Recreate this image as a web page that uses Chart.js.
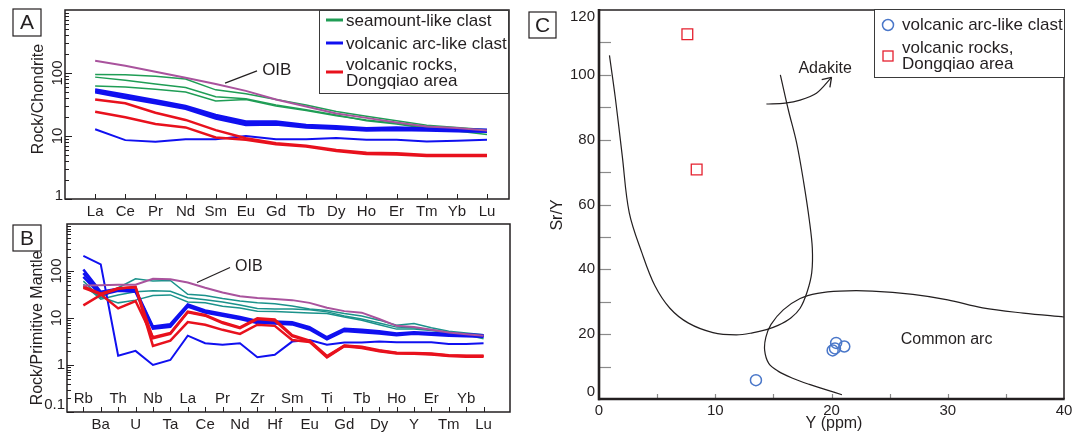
<!DOCTYPE html>
<html>
<head>
<meta charset="utf-8">
<script src="https://cdn.jsdelivr.net/npm/chart.js@4.4.0/dist/chart.umd.min.js"></script>
<style>
  body { margin: 0; background: #fff; }
  #wrap { position: relative; width: 1086px; height: 434px; overflow: hidden; }
  .painel { position: absolute; }
</style>
</head>
<body>
<div id="wrap">
  <div class="painel" style="left:0;top:0;width:520px;height:222px"><canvas id="grafico-a"></canvas></div>
  <div class="painel" style="left:0;top:214px;width:520px;height:220px"><canvas id="grafico-b"></canvas></div>
  <div class="painel" style="left:520px;top:0;width:566px;height:434px"><canvas id="grafico-c"></canvas></div>
</div>
<script>
// ---------- Painel A: ETR normalizados ao condrito ----------
const elementosA = ['La', 'Ce', 'Pr', 'Nd', 'Sm', 'Eu', 'Gd', 'Tb', 'Dy', 'Ho', 'Er', 'Tm', 'Yb', 'Lu'];
const ticksLogA = [1, 10, 100];
const oibA = [156, 130, 105, 84, 67, 52, 38, 29.5, 22.8, 19.4, 16.4, 14.2, 13.4, 12.2];
const seamountA1 = [95, 94, 89, 80, 54, 47, 38, 31, 24.5, 20.5, 17.5, 14.8, 13.6, 12.6];
const seamountA2 = [86, 77, 67, 59, 42, 39, 31, 26, 21.5, 17.5, 15.5, 13.2, 12, 10.6];
const seamountA3 = [62, 60, 55, 50, 36, 38, 30, 25.5, 21, 18, 16, 13.6, 12.8, 12.2];
const arcoA1 = [55, 45, 37, 30, 21.5, 17, 17, 15, 14.3, 13.3, 13.6, 13.2, 12.8, 12.6];
const arcoA2 = [52, 42, 35, 28.5, 20, 16, 16, 14.3, 13.6, 12.7, 13, 12.7, 12.3, 12.1];
const arcoA3 = [49.5, 40, 33, 27, 19, 15, 15.2, 13.6, 13, 12.2, 12.5, 12.2, 11.9, 11.7];
const arcoA4 = [12.8, 8.6, 8.1, 8.9, 8.9, 10, 8.9, 8.9, 9.3, 8.7, 8.7, 8.2, 8.4, 8.7];
const dongqiaoA1 = [38, 33, 23.4, 18, 12.4, 9.2, 7.7, 7.0, 6.0, 5.4, 5.3, 5.0, 5.0, 5.0];
const dongqiaoA2 = [24.3, 19.8, 15.5, 13.7, 9.5, 8.7, 7.4, 6.8, 5.8, 5.2, 5.1, 4.8, 4.8, 4.8];

// ---------- Painel B: multielementos normalizados ao manto primitivo ----------
const elementosB = ['Rb', 'Ba', 'Th', 'U', 'Nb', 'Ta', 'La', 'Ce', 'Pr', 'Nd', 'Zr', 'Hf', 'Sm', 'Eu', 'Ti', 'Gd', 'Tb', 'Dy', 'Ho', 'Y', 'Er', 'Tm', 'Yb', 'Lu'];
const ticksLogB = [0.1, 1, 10, 100];
const oibB = [49, 50, 51, 51, 68, 67, 57, 44, 35, 29, 26.5, 25.5, 24, 21, 16.5, 14, 13, 9.5, 6.8, 6.4, 5.6, 4.9, 4.5, 4.2];
const seamountB1 = [61, 27, 44, 68, 61, 63, 32, 30, 26, 23, 21, 20, 18, 15.5, 14.5, 12.5, 11, 9, 7, 7.6, 6.2, 5.2, 4.8, 4.4];
const seamountB2 = [52, 25, 31, 36, 38, 37, 27, 24.5, 22, 19, 16, 15.6, 15.6, 15, 13.5, 11, 9.5, 7.8, 6.4, 6.2, 5.6, 4.9, 4.5, 4.0];
const seamountB3 = [47, 28, 21, 24, 30, 31, 22, 21, 17.7, 16.4, 14, 13.8, 13.2, 12.8, 12.4, 10.5, 9, 7.2, 5.8, 5.8, 5.4, 4.8, 4.4, 3.6];
const arcoB1 = [108, 36, 42, 40, 6.6, 7.4, 19.5, 14.5, 12.3, 10.5, 8.6, 8.4, 8.1, 6.4, 3.9, 5.9, 5.6, 5.2, 4.7, 5.0, 4.8, 4.6, 4.5, 4.3];
const arcoB2 = [90, 33, 40, 38, 6.2, 6.9, 18.5, 13.8, 11.8, 10, 8.2, 8.0, 7.7, 6.0, 3.7, 5.6, 5.3, 4.9, 4.5, 4.8, 4.6, 4.4, 4.3, 4.15];
const arcoB3 = [75, 31, 38, 36, 5.9, 6.5, 17.5, 13, 11.2, 9.5, 7.8, 7.6, 7.3, 5.7, 3.5, 5.3, 5.0, 4.7, 4.3, 4.6, 4.4, 4.2, 4.1, 4.0];
const arcoB4 = [209, 138, 1.58, 2.0, 1.0, 1.28, 4.2, 2.9, 2.7, 2.9, 1.46, 1.65, 3.15, 3.4, 2.7, 3.0, 3.0, 3.15, 3.05, 3.05, 3.05, 2.8, 2.8, 2.9];
const dongqiaoB1 = [18.6, 31, 42, 46, 3.7, 4.6, 13.2, 11.2, 7.8, 6.1, 9.5, 8.8, 4.1, 3.2, 1.5, 2.55, 2.4, 2.0, 1.8, 1.78, 1.72, 1.6, 1.55, 1.55];
const dongqiaoB2 = [47, 33, 43, 45, 2.55, 3.3, 8.2, 7.2, 5.6, 4.6, 7.2, 6.8, 3.4, 3.1, 1.45, 2.5, 2.3, 1.95, 1.75, 1.74, 1.68, 1.55, 1.5, 1.5];
const dongqiaoB3 = [44, 32, 16, 23, 3.9, 4.8, 13.6, 11.6, 8.1, 6.3, 9.9, 9.3, 4.3, 3.3, 1.55, 2.6, 2.45, 2.05, 1.82, 1.8, 1.75, 1.62, 1.58, 1.58];

// ---------- Painel C: Sr/Y x Y ----------
const ticksYC = [0, 20, 40, 60, 80, 100, 120];
const arcoC = [[13.5, 5.8], [20.4, 17.3], [20.1, 15.0], [20.3, 15.6], [21.1, 16.2]];
const dongqiaoC = [[7.6, 112.5], [8.4, 70.8]];
const curvaAdakito = [[0.9, 106], [1.4, 93], [2.0, 75], [2.6, 57.5], [3.7, 45], [4.8, 35], [6.1, 28], [7.7, 23.4], [9.8, 20.5],
  [11.8, 19.8], [13.2, 20.4], [14.4, 21.4], [15.4, 22.7], [16.5, 25], [17.3, 28], [17.9, 33], [18.3, 39], [18.35, 46.5],
  [18.1, 55], [17.6, 67], [17.0, 79], [16.3, 89], [15.6, 100]];
const curvaArcoComum = [[20.9, 1.3], [19.5, 2.9], [18.1, 4.5], [16.6, 6.5], [15.4, 8.6], [14.6, 11], [14.25, 15], [14.35, 19],
  [14.8, 23], [15.85, 27.5], [17.3, 31.0], [18.8, 32.6], [20.7, 33.3], [23.5, 33.3], [27, 32.3], [30, 30.6], [33, 28.1],
  [36.5, 26.5], [40, 25.3]];
const setaAdakito = [[14.4, 91.0], [16.0, 91.3], [17.3, 92.2], [18.7, 94.3], [20.0, 99.2]];

const FONTE = '"Liberation Sans", Arial, Helvetica, sans-serif';
const COR_TEXTO = '#231f20';
const VERDE = '#1f9d55';
const TEAL = '#1b928b';
const AZUL = '#1010f0';
const VERMELHO = '#e8111d';
const ROXO = '#a9539d';

const pontos = serie => serie.map((v, i) => ({ x: i, y: v }));
const pares = lista => lista.map(p => ({ x: p[0], y: p[1] }));

function linha(serie, cor, largura) {
    return { data: pontos(serie), borderColor: cor, borderWidth: largura, pointRadius: 0, fill: false, tension: 0 };
}

function texto(ctx, str, x, y, tam, alinh, rot) {
    ctx.save();
    ctx.font = `${tam}px ${FONTE}`;
    ctx.fillStyle = COR_TEXTO;
    ctx.textAlign = alinh || 'center';
    ctx.textBaseline = 'middle';
    ctx.translate(x, y);
    if (rot) ctx.rotate(rot);
    ctx.fillText(str, 0, 0);
    ctx.restore();
}

function traco(ctx, x1, y1, x2, y2, cor, largura) {
    ctx.save();
    ctx.strokeStyle = cor || COR_TEXTO;
    ctx.lineWidth = largura || 1;
    ctx.beginPath();
    ctx.moveTo(x1, y1);
    ctx.lineTo(x2, y2);
    ctx.stroke();
    ctx.restore();
}

function moldura(ctx, area, largura) {
    ctx.save();
    ctx.strokeStyle = COR_TEXTO;
    ctx.lineWidth = largura;
    ctx.strokeRect(area.left, area.top, area.right - area.left, area.bottom - area.top);
    ctx.restore();
}

function caixaLetra(ctx, letra, x, y, w, h) {
    ctx.save();
    ctx.strokeStyle = COR_TEXTO;
    ctx.lineWidth = 1.2;
    ctx.strokeRect(x, y, w, h);
    ctx.restore();
    texto(ctx, letra, x + w / 2, y + h / 2 + 1, 21);
}

// marcas internas do eixo log (principais e secundarias)
function marcasLog(ctx, escala, area) {
    ctx.save();
    ctx.strokeStyle = COR_TEXTO;
    ctx.lineWidth = 1;
    ctx.beginPath();
    const d0 = Math.round(Math.log10(escala.min)), d1 = Math.round(Math.log10(escala.max));
    for (let d = d0; d < d1; d++) {
        for (let m = 1; m < 10; m++) {
            const y = Math.round(escala.getPixelForValue(m * Math.pow(10, d))) + 0.5;
            ctx.moveTo(area.left, y);
            ctx.lineTo(area.left + (m === 1 ? 7 : 4), y);
        }
    }
    ctx.stroke();
    ctx.restore();
}

function marcasX(ctx, escala, area, n) {
    for (let i = 0; i < n; i++) {
        const x = Math.round(escala.getPixelForValue(i)) + 0.5;
        traco(ctx, x, area.bottom, x, area.bottom - 5);
    }
}

function rotulosLog(ctx, escala, area, valores, xRot, xReto, folga) {
    valores.forEach(v => {
        const y = escala.getPixelForValue(v);
        if (v >= 10) {
            texto(ctx, String(v), xRot, y, 15, 'center', -Math.PI / 2);
        } else {
            texto(ctx, String(v), xReto, Math.min(y, area.bottom - folga), 15, 'right');
        }
    });
}

function legendaLinhas(ctx, x, y, w, h, itens) {
    ctx.save();
    ctx.fillStyle = '#fff';
    ctx.fillRect(x, y, w, h);
    ctx.strokeStyle = '#3a3a3a';
    ctx.lineWidth = 1;
    ctx.strokeRect(x + 0.5, y + 0.5, w - 1, h);
    ctx.restore();
    itens.forEach(item => {
        const yl = y + item.dy;
        traco(ctx, x + 7, yl, x + 24, yl, item.cor, 3);
        item.linhas.forEach((t, k) => {
            texto(ctx, t, x + 27, yl + (item.linhas.length > 1 ? (k - 0.5) * 16 : 0) + 1, 17, 'left');
        });
    });
}

const opcoesBase = {
    responsive: true,
    maintainAspectRatio: false,
    animation: false,
    events: [],
    plugins: { legend: { display: false }, tooltip: { enabled: false } }
};

const semGrade = { display: false, drawTicks: false };
const eixoOculto = { grid: semGrade, border: { display: false }, ticks: { display: false } };

// ---------- grafico A ----------
const decoracaoA = {
    id: 'decoracaoA',
    afterDraw(chart) {
        const ctx = chart.ctx, area = chart.chartArea;
        const sx = chart.scales.x, sy = chart.scales.y;
        marcasLog(ctx, sy, area);
        marcasX(ctx, sx, area, elementosA.length);
        moldura(ctx, area, 1.5);
        rotulosLog(ctx, sy, area, ticksLogA, 58, 63, 3);
        texto(ctx, 'Rock/Chondrite', 39, 99, 16, 'center', -Math.PI / 2);
        caixaLetra(ctx, 'A', 13, 9, 28, 27);
        traco(ctx, sx.getPixelForValue(4.31), sy.getPixelForValue(69), sx.getPixelForValue(5.37), sy.getPixelForValue(108), COR_TEXTO, 1.2);
        texto(ctx, 'OIB', sx.getPixelForValue(5.54), sy.getPixelForValue(112), 17, 'left');
        legendaLinhas(ctx, area.right - 190, area.top, 190, 83, [
            { cor: VERDE, dy: 10, linhas: ['seamount-like clast'] },
            { cor: AZUL, dy: 33, linhas: ['volcanic arc-like clast'] },
            { cor: VERMELHO, dy: 62, linhas: ['volcanic rocks,', 'Dongqiao area'] }
        ]);
    }
};

new Chart(document.getElementById('grafico-a'), {
    type: 'line',
    data: {
        datasets: [
            linha(oibA, ROXO, 2),
            linha(dongqiaoA1, VERMELHO, 2.5),
            linha(dongqiaoA2, VERMELHO, 2.5),
            linha(arcoA1, AZUL, 2.5),
            linha(arcoA2, AZUL, 2.5),
            linha(arcoA3, AZUL, 2.5),
            linha(arcoA4, AZUL, 2),
            linha(seamountA1, VERDE, 1.5),
            linha(seamountA2, VERDE, 1.5),
            linha(seamountA3, VERDE, 1.5)
        ]
    },
    options: {
        ...opcoesBase,
        layout: { padding: { top: 10, right: 11, left: 0, bottom: 0 } },
        scales: {
            x: {
                type: 'linear', min: -1, max: 13.73,
                afterBuildTicks: s => { s.ticks = elementosA.map((_, i) => ({ value: i })); },
                afterFit: s => { s.height = 23; },
                grid: semGrade, border: { display: false },
                ticks: {
                    autoSkip: false, maxRotation: 0, padding: 4, color: COR_TEXTO,
                    font: { family: FONTE, size: 15 },
                    callback: v => elementosA[v]
                }
            },
            y: { type: 'logarithmic', min: 1, max: 1000, afterFit: s => { s.width = 65; }, ...eixoOculto }
        }
    },
    plugins: [decoracaoA]
});

// ---------- grafico B ----------
const decoracaoB = {
    id: 'decoracaoB',
    afterDraw(chart) {
        const ctx = chart.ctx, area = chart.chartArea;
        const sx = chart.scales.x, sy = chart.scales.y;
        marcasLog(ctx, sy, area);
        marcasX(ctx, sx, area, elementosB.length);
        moldura(ctx, area, 1.5);
        rotulosLog(ctx, sy, area, ticksLogB, 57, 65, 7);
        elementosB.forEach((el, i) => {
            const x = sx.getPixelForValue(i);
            texto(ctx, el, x, i % 2 === 0 ? area.bottom - 13 : area.bottom + 13, 15);
        });
        texto(ctx, 'Rock/Primitive Mantle', 38, 114, 16, 'center', -Math.PI / 2);
        caixaLetra(ctx, 'B', 13, 11, 28, 26);
        traco(ctx, sx.getPixelForValue(6.53), sy.getPixelForValue(57), sx.getPixelForValue(8.43), sy.getPixelForValue(119), COR_TEXTO, 1.2);
        texto(ctx, 'OIB', sx.getPixelForValue(8.72), sy.getPixelForValue(122), 16, 'left');
    }
};

new Chart(document.getElementById('grafico-b'), {
    type: 'line',
    data: {
        datasets: [
            linha(oibB, ROXO, 2),
            linha(dongqiaoB1, VERMELHO, 2.5),
            linha(dongqiaoB2, VERMELHO, 2.5),
            linha(dongqiaoB3, VERMELHO, 2.5),
            linha(arcoB1, AZUL, 2.5),
            linha(arcoB2, AZUL, 2.5),
            linha(arcoB3, AZUL, 2.5),
            linha(arcoB4, AZUL, 2),
            linha(seamountB1, TEAL, 1.5),
            linha(seamountB2, TEAL, 1.5),
            linha(seamountB3, TEAL, 1.5)
        ]
    },
    options: {
        ...opcoesBase,
        layout: { padding: { top: 10, right: 10, left: 0, bottom: 0 } },
        scales: {
            x: { type: 'linear', min: -0.94, max: 24.52, afterFit: s => { s.height = 22; }, ...eixoOculto },
            y: { type: 'logarithmic', min: 0.1, max: 1000, afterFit: s => { s.width = 67; }, ...eixoOculto }
        }
    },
    plugins: [decoracaoB]
});

// ---------- grafico C ----------
const decoracaoC = {
    id: 'decoracaoC',
    afterDraw(chart) {
        const ctx = chart.ctx, area = chart.chartArea;
        const sx = chart.scales.x, sy = chart.scales.y;
        for (let v = 10; v < 120; v += 10) {
            const y = Math.round(sy.getPixelForValue(v)) + 0.5;
            traco(ctx, area.left, y, area.left + 12, y, '#8a8a8a', 1.2);
        }
        for (let v = 5; v < 40; v += 5) {
            const x = Math.round(sx.getPixelForValue(v)) + 0.5;
            traco(ctx, x, area.bottom, x, area.bottom - 5, '#8a8a8a', 1.2);
        }
        traco(ctx, area.left, area.top, area.right, area.top, COR_TEXTO, 1.5);
        traco(ctx, area.right, area.top, area.right, area.bottom, COR_TEXTO, 1.5);
        traco(ctx, area.left, area.top - 1, area.left, area.bottom + 1.2, COR_TEXTO, 2.6);
        traco(ctx, area.left - 1, area.bottom, area.right + 0.7, area.bottom, COR_TEXTO, 2.6);

        // rotulos do eixo Y, presos dentro da moldura como no original
        ticksYC.forEach(v => {
            const y = Math.max(area.top + 7, Math.min(area.bottom - 7, sy.getPixelForValue(v)));
            texto(ctx, String(v), area.left - 4, y, 15, 'right');
        });

        // ponta da seta
        const n = setaAdakito.length;
        const xa = sx.getPixelForValue(setaAdakito[n - 2][0]), ya = sy.getPixelForValue(setaAdakito[n - 2][1]);
        const xb = sx.getPixelForValue(setaAdakito[n - 1][0]), yb = sy.getPixelForValue(setaAdakito[n - 1][1]);
        const ang = Math.atan2(yb - ya, xb - xa);
        [0.6, -0.6].forEach(d => {
            traco(ctx, xb, yb, xb - 10 * Math.cos(ang + d), yb - 10 * Math.sin(ang + d), COR_TEXTO, 1.3);
        });

        texto(ctx, 'Adakite', sx.getPixelForValue(19.45), sy.getPixelForValue(102), 16);
        texto(ctx, 'Common arc', sx.getPixelForValue(29.9), sy.getPixelForValue(18.2), 16);
        texto(ctx, 'Sr/Y', 38, 215, 16, 'center', -Math.PI / 2);
        texto(ctx, 'Y (ppm)', 314, 424, 16);
        caixaLetra(ctx, 'C', 9, 12, 27, 26);

        // legenda
        const lx = area.right - 190, ly = area.top - 1;
        ctx.save();
        ctx.fillStyle = '#fff';
        ctx.fillRect(lx, ly, 190, 68);
        ctx.strokeStyle = '#3a3a3a';
        ctx.lineWidth = 1;
        ctx.strokeRect(lx + 0.5, ly + 0.5, 190, 68);
        ctx.lineWidth = 1.5;
        ctx.strokeStyle = '#4a77c9';
        ctx.beginPath();
        ctx.arc(lx + 14, ly + 16, 5.5, 0, Math.PI * 2);
        ctx.stroke();
        ctx.strokeStyle = '#e5202e';
        ctx.lineWidth = 1.3;
        ctx.strokeRect(lx + 9, ly + 42, 10, 10);
        ctx.restore();
        texto(ctx, 'volcanic arc-like clast', lx + 28, ly + 16, 17, 'left');
        texto(ctx, 'volcanic rocks,', lx + 28, ly + 39, 17, 'left');
        texto(ctx, 'Dongqiao area', lx + 28, ly + 55, 17, 'left');
    }
};

const curva = (lista, tensao) => ({
    data: pares(lista), showLine: true, borderColor: COR_TEXTO, borderWidth: 1.2,
    pointRadius: 0, fill: false, tension: tensao
});

new Chart(document.getElementById('grafico-c'), {
    type: 'scatter',
    data: {
        datasets: [
            { data: pares(arcoC), pointStyle: 'circle', pointRadius: 5.5, borderColor: '#4a77c9', borderWidth: 1.5, backgroundColor: 'rgba(0,0,0,0)' },
            { data: pares(dongqiaoC), pointStyle: 'rect', pointRadius: 7.6, borderColor: '#e5202e', borderWidth: 1.3, backgroundColor: 'rgba(0,0,0,0)' },
            curva(curvaAdakito, 0.35),
            curva(curvaArcoComum, 0.35),
            curva(setaAdakito, 0.3)
        ]
    },
    options: {
        ...opcoesBase,
        layout: { padding: { top: 10, right: 22, left: 0, bottom: 0 } },
        scales: {
            x: {
                min: 0, max: 40,
                afterFit: s => { s.height = 35; },
                grid: semGrade, border: { display: false },
                ticks: { stepSize: 10, maxRotation: 0, padding: 3, color: COR_TEXTO, font: { family: FONTE, size: 15 } }
            },
            y: {
                min: 0, max: 120,
                afterFit: s => { s.width = 79; },
                ...eixoOculto
            }
        }
    },
    plugins: [decoracaoC]
});
</script>
</body>
</html>
